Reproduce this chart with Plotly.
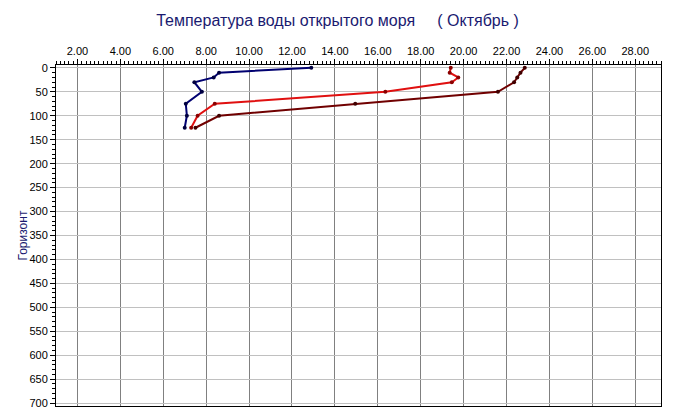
import plotly.graph_objects as go

depth = [0, 10, 20, 30, 50, 75, 100, 125]
temp_blue = [12.9, 8.6, 8.35, 7.45, 7.8, 7.05, 7.1, 7.0]
temp_red = [19.4, 19.35, 19.75, 19.45, 16.35, 8.4, 7.6, 7.3]
temp_darkred = [22.85, 22.65, 22.5, 22.35, 21.6, 14.95, 8.6, 7.5]

x_ticks = [2, 4, 6, 8, 10, 12, 14, 16, 18, 20, 22, 24, 26, 28]
y_ticks = list(range(0, 701, 50))

title_text = "Температура воды открытого моря&nbsp;&nbsp;&nbsp;&nbsp; ( Октябрь )"
y_title = "Горизонт"

# page body has an 8px margin, so the figure is offset by 8px
W, H = 667, 411

fig = go.Figure()
series = [
    (temp_blue, "#000070", "#000040"),
    (temp_red, "#e01010", "#8a0000"),
    (temp_darkred, "#700000", "#400000"),
]
for temps, lc, mc in series:
    fig.add_trace(go.Scatter(
        x=temps, y=depth, mode="lines+markers",
        line=dict(color=lc, width=2),
        marker=dict(color=mc, size=4),
        showlegend=False, hoverinfo="skip",
    ))

font_family = "Arial, Liberation Sans, sans-serif"
fig.update_layout(
    width=W, height=H,
    margin=dict(l=48, r=14, t=57, b=13, autoexpand=False),
    paper_bgcolor="white", plot_bgcolor="white",
    title=dict(text=title_text, x=329.5 / W, xref="container", xanchor="center",
               y=1 - 12 / H, yref="container", yanchor="middle",
               font=dict(family=font_family, size=16, color="#1a1a70")),
    font=dict(family=font_family, size=11, color="black"),
)
fig.add_annotation(
    text=y_title, xref="paper", yref="paper", x=0, xshift=-34, y=0.5,
    xanchor="center", yanchor="middle", textangle=-90, showarrow=False,
    font=dict(family=font_family, size=12, color="#1a1a70"),
)
fig.update_xaxes(
    side="top", range=[1, 29.2], tickvals=x_ticks, tickformat=".2f",
    automargin=False,
    showgrid=True, gridcolor="#808080", gridwidth=1, zeroline=False,
    showline=True, linecolor="black", linewidth=1, mirror=True,
    ticks="outside", ticklen=5, tickcolor="black",
    minor=dict(dtick=0.2, ticks="outside", ticklen=3, tickcolor="black", showgrid=False),
    tickfont=dict(size=11, color="black"),
)
fig.update_yaxes(
    range=[706, -6], tickvals=y_ticks, automargin=False,
    showgrid=True, gridcolor="#c0c0c0", gridwidth=1, zeroline=False,
    showline=True, linecolor="black", linewidth=1, mirror=True,
    ticks="outside", ticklen=5, tickcolor="black",
    minor=dict(dtick=10, ticks="outside", ticklen=3, tickcolor="black", showgrid=False),
    tickfont=dict(size=11, color="black"),
)
fig.write_html("out.html")
